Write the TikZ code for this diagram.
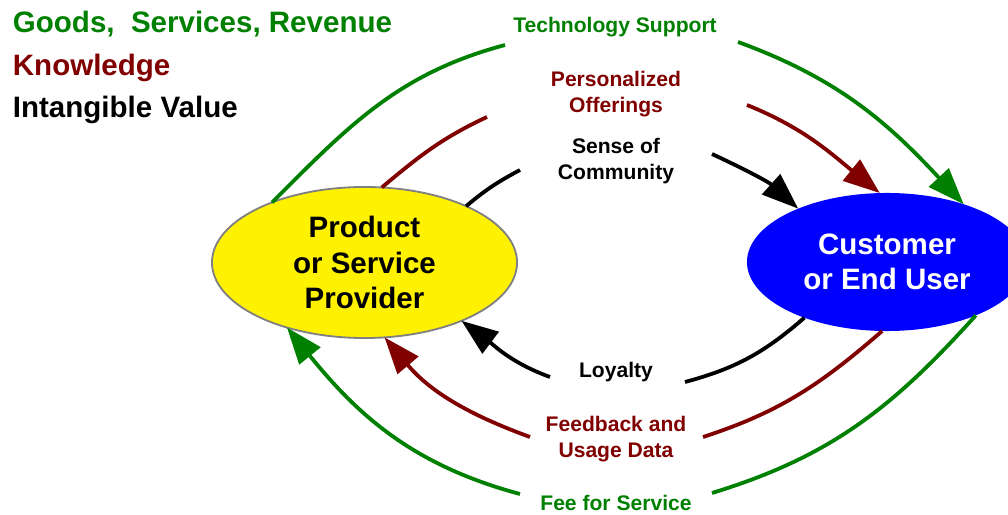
\documentclass[tikz,border=0pt]{standalone}
\usepackage{fontspec}
\setmainfont{Liberation Sans}
\usepackage{xcolor}
\usetikzlibrary{shapes.geometric, arrows.meta}
\definecolor{grn}{RGB}{0,128,0}
\definecolor{dred}{RGB}{128,0,0}

\begin{document}
\begin{tikzpicture}[>={Triangle[length=26pt,width=19pt]}, line width=2.7pt,
		x=0.025cm, y=0.025cm,
		party/.style={ellipse, outer sep=0pt, inner sep=0pt, align=center,
			font=\fontsize{21}{25}\selectfont\bfseries},
		flow/.style={font=\fontsize{15}{18}\selectfont\bfseries, align=center},
		key/.style={anchor=base west, inner sep=0pt,
			font=\fontsize{21}{25}\selectfont\bfseries}]
	\useasboundingbox (0, 0) rectangle (1008, 514);

	\node[party, fill=yellow, draw=gray, line width=1.3pt, minimum width=7.625cm,
		minimum height=3.775cm] (prov) at (364.5, 251.5) {Product\\or Service\\Provider};
	\node[party, fill=blue, text=white, minimum width=7cm,
		minimum height=3.45cm] (cust) at (887, 252) {Customer\\or End User};

	\node[key, text=grn] (goods) at (11, 481) {Goods,~ Services, Revenue};
	\node[key, text=dred] (know) at (11, 438) {Knowledge};
	\node[key] (intang) at (11, 396) {Intangible Value};

	\node[flow, text=grn, anchor=base] (tech) at (615, 481) {Technology Support};
	\node[flow, text=dred] (offer) at (616, 420) {Personalized\\Offerings};
	\node[flow] (sense) at (616, 353) {Sense of\\Community};
	\node[flow, anchor=base] (loyal) at (616, 136) {Loyalty};
	\node[flow, text=dred] (feed) at (616, 75) {Feedback and\\Usage Data};
	\node[flow, text=grn, anchor=base] (fee) at (616, 4) {Fee for Service};

	% gaps round the labels
	\coordinate (g1) at (505, 469);
	\coordinate (g2) at (738, 472);
	\coordinate (r1) at (487, 397);
	\coordinate (r2) at (747, 409);
	\coordinate (k1) at (520, 344);
	\coordinate (k2) at (712, 360);
	\coordinate (k3) at (685, 132);
	\coordinate (k4) at (550, 137);
	\coordinate (r3) at (703, 77);
	\coordinate (r4) at (530, 77);
	\coordinate (g3) at (712, 21);
	\coordinate (g4) at (520, 20);

	\draw[grn] (prov.147) to[out=45, in=195] (g1);
	\draw[grn, ->] (g2) to[out=-20, in=133] (cust.37);
	\draw[dred] (prov.77) to[out=40, in=205] (r1);
	\draw[dred, ->] (r2) to[out=-22, in=141] (cust.96);
	\draw (prov.29) to[out=40, in=208] (k1);
	\draw[->] (k2) to[out=-25, in=138] (cust.149);

	\draw (cust.214.6) to[out=221, in=15] (k3);
	\draw[->] (k4) to[out=160, in=-37] (prov.329);
	\draw[dred] (cust.266) to[out=221, in=18] (r3);
	\draw[dred, ->] (r4) to[out=160, in=310] (prov.285);
	\draw[grn] (cust.329) to[out=228, in=17] (g3);
	\draw[grn, ->] (g4) to[out=165, in=309] (prov.220);
\end{tikzpicture}
\end{document}
